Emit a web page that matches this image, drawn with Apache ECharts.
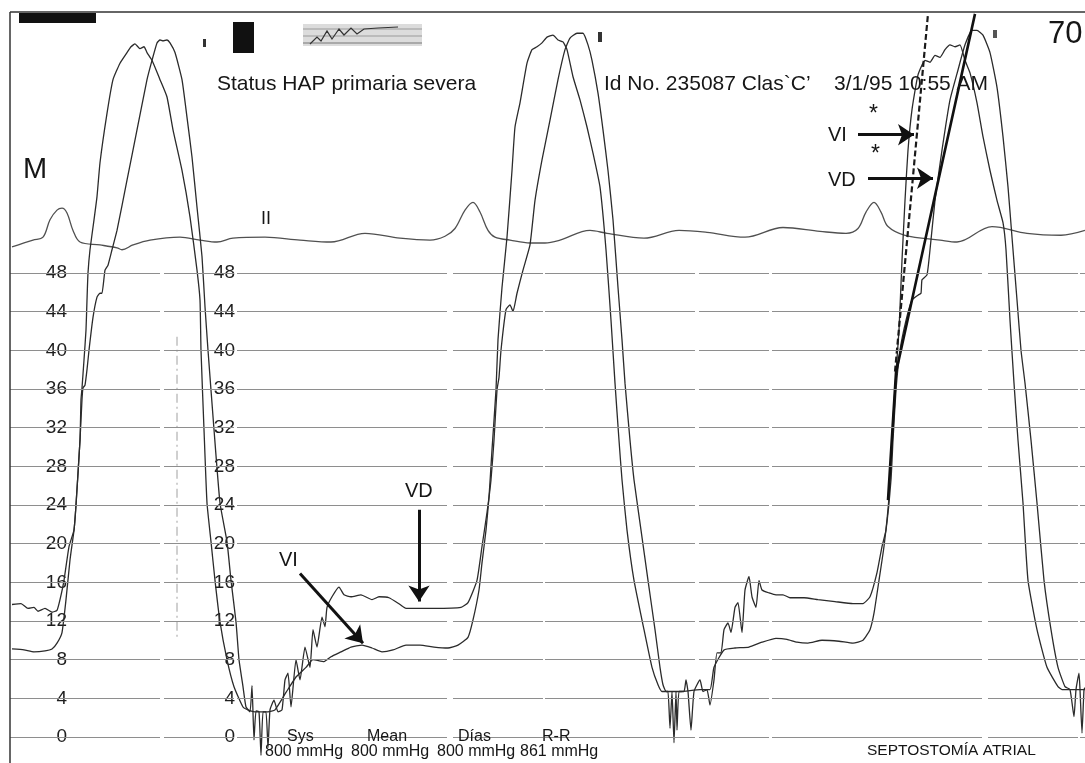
<!DOCTYPE html>
<html>
<head>
<meta charset="utf-8">
<style>
  html, body { margin: 0; padding: 0; background: #fff; }
  #chart { width: 1085px; height: 763px; }
</style>
<script src="https://cdn.jsdelivr.net/npm/echarts@6.0.0/dist/echarts.min.js"></script>
</head>
<body>
<div id="chart"></div>
<script>
// tick labels of the mmHg scale (two columns)
var yTicks = [0, 4, 8, 12, 16, 20, 24, 28, 32, 36, 40, 44, 48];

// lead II ECG trace  [t, level]
var ecgTrace = [
  [2,50.7],[23,51.4],[33,51.7],[40,53.5],[47,54.5],[52,54.7],[57,54.2],[63,52.4],[70,51.2],[90,50.9],
  [107,50.6],[112,50.4],[123,50.9],[140,51.4],[170,51.7],[190,51.4],[207,51.2],[223,51.6],[255,51.7],
  [290,51.4],[321,51.2],[355,52.1],[390,51.6],[420,51.4],[435,51.8],[445,52.6],[455,54.5],[463,55.3],
  [470,54.3],[478,52.4],[485,51.7],[500,51.4],[520,51.1],[535,51.1],[550,51.4],[580,52.4],[597,52.1],
  [634,51.6],[669,52.4],[697,52.2],[735,51.7],[773,52.7],[810,52.3],[836,52.1],[848,52.6],[856,54.3],
  [864,55.3],[871,54.3],[878,52.8],[895,51.9],[930,51.4],[947,51.2],[982,52.8],[1017,52.1],[1051,51.9],
  [1075,52.4]
];

// right ventricle (VD) pressure, mmHg
var vdTrace = [
  [2,13.7],[11,13.8],[18,13.3],[24,13.4],[28,13.0],[35,13.3],[42,12.9],[47,13.1],
  [50,14.2],[54,16.2],[59,19.7],[64,21.4],[66,24.0],[70,30.7],[72,34.9],[73,36.1],[75,36.4],[77,38.0],
  [79,40.0],[83,43.4],[87,45.5],[90,45.9],[92,45.9],[95,48.3],[98,48.8],[102,50.4],[107,52.4],[117,57.6],
  [127,62.8],[137,68.0],[142,70.0],[147,71.8],[150,72.1],[153,72.0],[157,72.1],[160,71.8],
  [165,70.8],[172,68.0],[177,64.1],[182,60.0],[187,54.8],[192,49.7],[195,44.5],[198,40.0],[204,31.8],
  [210,24.2],[217,20.2],[221,16.2],[226,11.9],[229,8.0],[233,5.2],[236,3.1],[240,2.6],
  [242,5.3],[244,-0.3],[246,2.7],[249,2.6],[251,-1.9],[253,2.6],[256,2.6],[258,-1.1],[260,2.8],[264,3.8],
  [268,2.6],[272,2.8],
  [275,5.9],[278,6.6],[281,3.1],[286,8.0],[290,5.9],[295,9.3],[300,7.2],[303,11.1],[307,9.3],[312,12.4],
  [315,11.4],[317,13.4],[322,14.5],[329,15.5],[334,14.7],[341,14.5],[351,14.7],[362,14.2],[369,14.5],
  [379,14.4],[390,13.7],[396,13.3],[410,13.3],[424,13.3],[451,13.4],[458,13.9],[467,16.2],[472,19.7],
  [477,23.2],[481,26.6],
  [484,30.7],[487,35.9],[489,37.2],[491,40.0],[496,44.2],[500,44.7],[503,44.0],[507,45.9],[513,48.3],
  [520,50.9],[525,55.5],[532,59.7],[540,63.8],[548,68.0],[555,71.1],[560,72.3],[567,72.8],[573,72.8],
  [578,71.6],[582,70.0],[588,66.6],[593,62.8],[598,58.6],[603,53.5],[608,46.5],[612,41.1],[615,36.6],
  [620,30.7],[624,26.6],[631,21.4],[638,16.2],[645,11.1],[650,7.2],[653,5.4],[656,4.7],
  [658,4.7],[660,0.9],[662,4.7],[664,-0.6],[666,4.7],[667,0.7],[669,4.7],[674,4.7],[676,5.9],[678,4.7],
  [681,0.7],[684,4.7],[690,5.9],[693,4.7],[697,4.9],[700,3.3],[704,5.9],
  [707,8.7],[711,8.7],[714,11.1],[718,11.8],[721,10.8],[725,13.4],[728,13.9],[732,10.8],[735,15.2],
  [739,16.6],[742,14.5],[746,13.4],[749,16.2],[752,15.2],[759,14.9],[766,14.7],[773,14.7],[780,14.4],
  [794,14.4],[808,14.2],[825,14.0],[843,13.8],[853,13.8],[860,14.5],[867,17.0],[872,19.7],[876,21.4],
  [881,26.6],[883,30.7],[886,35.9],[890,40.0],[896,43.1],[902,45.2],[908,45.7],[911,45.9],[912,47.3],
  [917,47.8],[920,50.4],[925,55.5],[932,60.7],[940,65.9],[948,69.0],[955,71.6],[962,73.1],[967,73.1],
  [973,72.6],
  [980,70.8],[987,67.2],[993,62.1],[998,56.9],[1002,51.7],[1007,45.2],[1011,40.0],[1015,36.6],[1021,30.7],
  [1027,24.2],[1034,16.2],[1041,11.1],[1048,7.2],[1055,5.2],[1060,4.9],[1064,2.1],[1066,4.9],[1069,6.6],
  [1070,4.9],[1072,0.4],[1074,4.9],[1075,5.1]
];

// left ventricle (VI) pressure, mmHg
var viTrace = [
  [2,9.1],[14,9.0],[24,8.8],[35,8.9],[42,9.1],[47,9.7],[52,10.8],[56,14.2],[60,18.3],[64,21.4],[66,24.0],
  [70,30.7],[71,34.9],[72,36.1],[74,39.0],[76,42.1],[77,45.2],[78,48.0],[80,50.4],[84,53.5],[87,55.9],
  [90,59.4],[97,64.5],[103,68.0],[110,69.7],[117,70.8],[121,71.4],[125,71.7],[130,71.2],[134,71.4],
  [137,70.8],
  [142,70.0],[150,68.0],[157,66.2],[163,62.8],[172,58.6],[180,53.8],[187,48.3],[190,45.2],[191,40.0],
  [194,31.8],[197,24.2],[201,20.2],[205,16.2],[210,11.9],[217,8.0],[224,5.2],[233,3.1],[238,2.8],
  [245,2.6],[252,2.6],[258,2.6],[265,2.8],[276,4.6],[286,6.2],[296,7.2],[303,8.0],[314,7.8],[321,8.3],
  [331,8.8],[341,9.3],[352,9.5],[362,9.2],[372,8.8],[383,9.0],[396,9.5],[410,9.5],[424,9.3],[438,9.2],
  [448,9.5],[458,10.3],[463,12.1],[469,15.2],[472,18.0],[476,21.4],[479,24.8],[482,29.7],[486,35.9],
  [488,41.1],[492,46.5],[497,51.7],[502,58.6],[505,63.1],[510,65.6],[517,69.7],[522,71.1],[527,71.4],
  [532,71.8],[537,72.4],[543,72.6],[548,72.1],[553,71.9],
  [557,71.1],[563,68.3],[570,65.9],[577,63.1],[583,60.4],[590,56.9],[596,50.4],[601,43.1],[605,36.6],
  [609,30.7],[612,26.6],[617,21.4],[624,16.2],[634,11.1],[642,7.2],[648,5.4],[652,4.7],[670,4.7],
  [690,4.9],[700,4.9],[704,7.2],[714,9.0],[725,9.2],[739,9.3],[752,9.8],[766,10.2],[777,10.1],[787,9.8],
  [798,9.7],[812,10.0],[829,9.9],[843,9.7],[853,10.0],[860,11.1],[864,12.8],[869,16.2],[874,19.7],
  [879,24.8],[883,32.8],[886,37.7],[889,42.1],[892,49.3],[895,55.5],[898,60.7],[902,64.9],[908,68.5],
  [915,70.0],[920,69.8],[925,70.5],[930,70.3],[935,71.1],[940,71.6],[945,71.4],[950,71.6],
  [955,70.0],[960,68.7],[967,65.6],[973,62.1],[980,58.6],[987,55.5],[993,53.2],[996,50.4],[1000,43.1],
  [1004,36.6],[1008,30.7],[1013,24.2],[1018,16.2],[1027,11.1],[1037,7.2],[1048,5.2],[1052,4.9],
  [1060,4.9],[1075,4.9]
];

// slope lines drawn on the third upstroke (VI dashed, VD solid)
var viSlope = [[885,37.8],[918,74.8]];
var vdSlope = [[878,24.5],[886,37.7],[965,74.8]];
// faint marker line in the first cycle
var markerLine = [[167,41.4],[167,10.3]];

// annotation arrows: [from, to]
var arrows = [
  [[290,16.9],[353,9.7]],
  [[409,23.5],[409,14.0]],
  [[848,62.3],[904,62.3]],
  [[858,57.8],[923,57.8]]
];

var FONT = '"Liberation Sans", Arial, sans-serif';

function txt(x, y, s, size){
  return {
    type: 'text', x: x, y: y, z: 100,
    style: {
      text: s, fill: '#161616',
      font: size + 'px ' + FONT,
      textAlign: 'left', align: 'left',
      textVerticalAlign: 'middle', verticalAlign: 'middle'
    }
  };
}

function yAxisAt(margin){
  return {
    type: 'value', position: 'left', min: -4, max: 76, interval: 4, z: 1,
    axisLine: { show: false }, axisTick: { show: false }, splitLine: { show: false },
    axisLabel: {
      margin: margin, color: '#1e1e1e', fontSize: 19, fontFamily: FONT,
      backgroundColor: '#fff', padding: [0, 2],
      formatter: function(v){ return (v >= 0 && v <= 48) ? String(v) : ''; }
    }
  };
}

var chart = echarts.init(document.getElementById('chart'), null, { renderer: 'canvas' });

var traceStyle = { color: '#2b2b2b', width: 1.3 };

chart.setOption({
  backgroundColor: '#fff',
  animation: false,
  grid: { left: 10, right: 0, top: 2.3, height: 773.3, containLabel: false, outerBoundsMode: 'none' },
  xAxis: { type: 'value', min: 0, max: 1075, show: false },
  yAxis: [yAxisAt(-59), yAxisAt(-227)],
  series: [
    {
      // horizontal grid of the recorder paper
      name: 'grid', type: 'line', z: 0, data: [[0, -10]], symbol: 'none',
      lineStyle: { width: 0 }, silent: true,
      markLine: {
        silent: true, symbol: 'none', label: { show: false },
        lineStyle: { color: '#8e8e8e', width: 1.2, type: [150, 4, 70, 3, 210, 6, 90, 2] },
        data: yTicks.map(function(v){ return { yAxis: v }; })
      }
    },
    {
      name: 'II', type: 'line', data: ecgTrace, symbol: 'none', smooth: 0.35, z: 2,
      lineStyle: { color: '#505050', width: 1.3 }
    },
    {
      name: 'VI', type: 'line', data: viTrace, symbol: 'none', smooth: 0.15, z: 3,
      lineStyle: traceStyle
    },
    {
      name: 'VD', type: 'line', data: vdTrace, symbol: 'none', smooth: 0.15, z: 3,
      lineStyle: traceStyle
    },
    {
      name: 'marker', type: 'line', data: markerLine, symbol: 'none', z: 2,
      lineStyle: { color: '#a0a0a0', width: 1, type: [9, 4, 2, 4] }
    },
    {
      name: 'VI slope', type: 'line', data: viSlope, symbol: 'none', z: 4,
      lineStyle: { color: '#1a1a1a', width: 2.2, type: [6, 3] }
    },
    {
      name: 'VD slope', type: 'line', data: vdSlope, symbol: 'none', z: 4,
      lineStyle: { color: '#111', width: 2.6 }
    },
    {
      name: 'arrows', type: 'lines', coordinateSystem: 'cartesian2d', z: 5,
      symbol: ['none', 'arrow'], symbolSize: 16,
      lineStyle: { color: '#111', width: 3, opacity: 1, curveness: 0 },
      data: arrows.map(function(a){ return { coords: a }; })
    }
  ],
  graphic: [
    // frame
    { type: 'line', z: 90, shape: { x1: 10, y1: 12, x2: 1085, y2: 12 }, style: { stroke: '#333', lineWidth: 1.5 } },
    { type: 'line', z: 90, shape: { x1: 10, y1: 12, x2: 10, y2: 763 }, style: { stroke: '#333', lineWidth: 1.5 } },
    // blacked out marks and signature
    { type: 'rect', z: 90, shape: { x: 19, y: 13, width: 77, height: 10 }, style: { fill: '#111' } },
    { type: 'rect', z: 90, shape: { x: 233, y: 22, width: 21, height: 31 }, style: { fill: '#111' } },
    { type: 'rect', z: 90, shape: { x: 203, y: 39, width: 3, height: 8 }, style: { fill: '#333' } },
    { type: 'rect', z: 90, shape: { x: 598, y: 32, width: 4, height: 10 }, style: { fill: '#333' } },
    { type: 'rect', z: 90, shape: { x: 993, y: 30, width: 4, height: 8 }, style: { fill: '#555' } },
    { type: 'rect', z: 90, shape: { x: 303, y: 24, width: 119, height: 22 }, style: { fill: '#dcdcdc' } },
    { type: 'line', z: 91, shape: { x1: 303, y1: 29, x2: 422, y2: 29 }, style: { stroke: '#9a9a9a', lineWidth: 1 } },
    { type: 'line', z: 91, shape: { x1: 303, y1: 36, x2: 422, y2: 36 }, style: { stroke: '#9a9a9a', lineWidth: 1 } },
    { type: 'line', z: 91, shape: { x1: 303, y1: 43, x2: 422, y2: 43 }, style: { stroke: '#777', lineWidth: 1.2 } },
    { type: 'polyline', z: 92, shape: { points: [[310,44],[317,37],[321,41],[327,31],[332,39],[339,29],[344,35],[351,28],[357,34],[364,29],[378,28],[398,27]] },
      style: { stroke: '#333', lineWidth: 1.2, fill: null } },
    // captions
    txt(217, 84, 'Status HAP primaria severa', 21),
    txt(604, 84, 'Id No. 235087 Clas`C\u2019', 21),
    txt(834, 84, '3/1/95 10:55 AM', 21),
    txt(23, 170, 'M', 29),
    txt(1048, 34, '70', 31),
    txt(261, 219, 'II', 18),
    txt(279, 560, 'VI', 20),
    txt(405, 491, 'VD', 20),
    txt(828, 135, 'VI', 20),
    txt(828, 180, 'VD', 20),
    txt(869, 115, '*', 23),
    txt(871, 155, '*', 23),
    txt(287, 737, 'Sys', 16),
    txt(265, 752, '800 mmHg', 16),
    txt(367, 737, 'Mean', 16),
    txt(351, 752, '800 mmHg', 16),
    txt(458, 737, 'D\u00edas', 16),
    txt(437, 752, '800 mmHg', 16),
    txt(542, 737, 'R-R', 16),
    txt(520, 752, '861 mmHg', 16),
    txt(867, 751, 'SEPTOSTOM\u00cdA ATRIAL', 15.5)
  ]
});
</script>
</body>
</html>
